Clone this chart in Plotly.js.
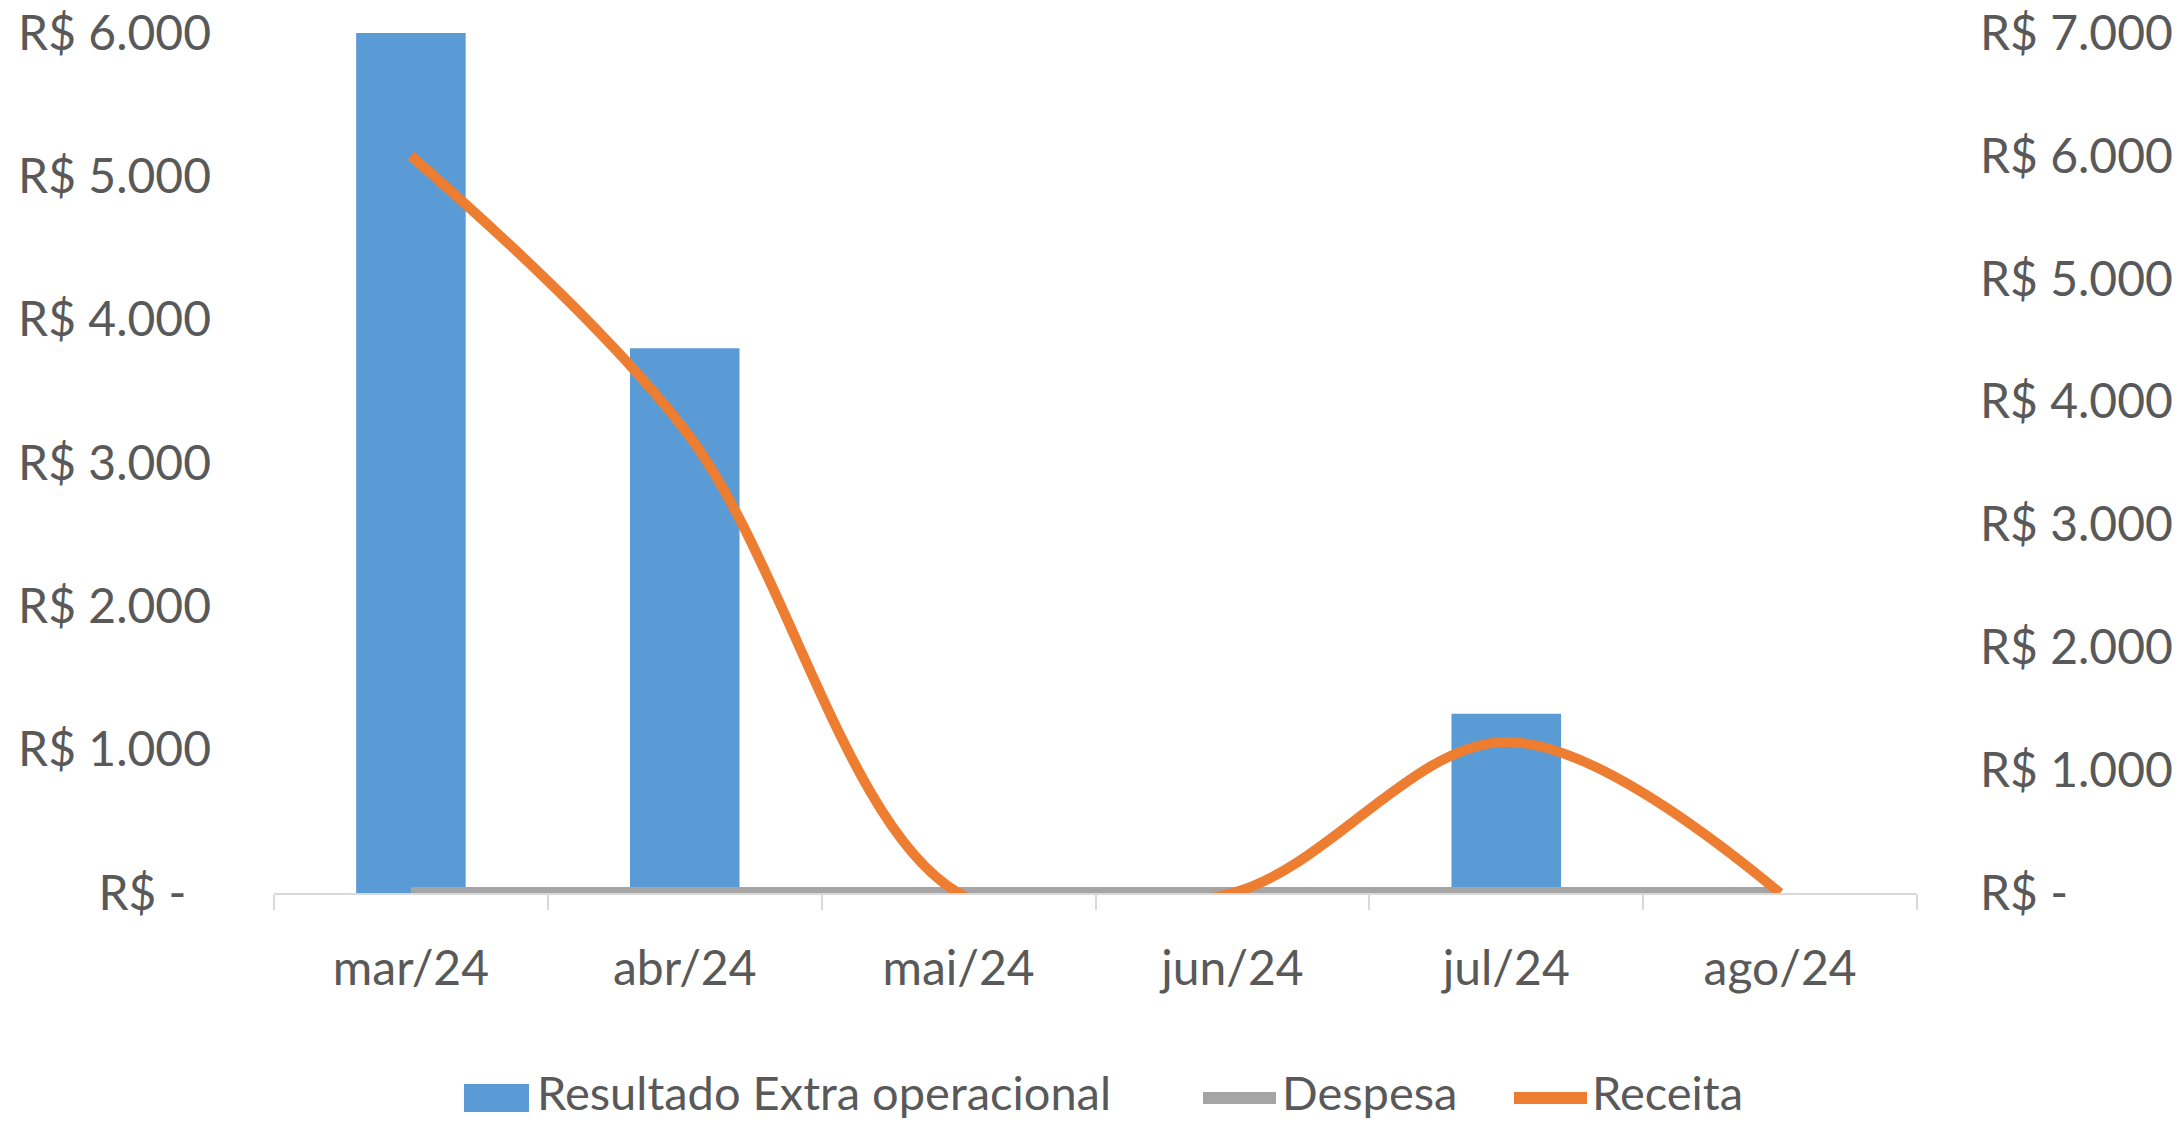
<!DOCTYPE html>
<html>
<head>
<meta charset="utf-8">
<script src="https://cdn.plot.ly/plotly-3.0.1.min.js"></script>
<style>
html,body{margin:0;padding:0;background:#fff;}
#chart{width:2178px;height:1125px;}
</style>
</head>
<body>
<div id="chart"></div>
<script>
const months = ["mar/24","abr/24","mai/24","jun/24","jul/24","ago/24"];
const resultado = [6000, 3800, 0, 0, 1250, 0];
const despesa = [0, 0, 0, 0, 0, 0];
const receita = [6000, 3770, 0, 0, 1230, 0];
const seriesNames = ["Resultado Extra operacional", "Despesa", "Receita"];
const seriesColors = ["#5B9BD5", "#A5A5A5", "#ED7D31"];
const leftTicks = [0,1000,2000,3000,4000,5000,6000];
const leftLabels = ["R$ -\u00a0\u00a0","R$ 1.000","R$ 2.000","R$ 3.000","R$ 4.000","R$ 5.000","R$ 6.000"];
const rightTicks = [0,1000,2000,3000,4000,5000,6000,7000];
const rightLabels = ["R$ -","R$ 1.000","R$ 2.000","R$ 3.000","R$ 4.000","R$ 5.000","R$ 6.000","R$ 7.000"];

const W = 2178, H = 1125;
const M = {l:274, r:261, t:33, b:232};
const pw = W - M.l - M.r, ph = H - M.t - M.b;
const px = v => (v - M.l) / pw;
const py = v => (H - M.b - v) / ph;

const font = {family:"Lato, 'Open Sans', sans-serif", size:48, color:"#595959"};
const legFont = {family:"Lato, 'Open Sans', sans-serif", size:47, color:"#595959"};

const traces = [
  {type:"bar", name:seriesNames[0], x:months, y:resultado,
   marker:{color:seriesColors[0]}, yaxis:"y"},
  {type:"scatter", mode:"lines", name:seriesNames[1], x:months, y:despesa,
   line:{color:seriesColors[1], width:12}, yaxis:"y2"},
  {type:"scatter", mode:"lines", name:seriesNames[2], x:months, y:receita,
   line:{color:seriesColors[2], width:10, shape:"spline", smoothing:1}, yaxis:"y2"}
];

// manual legend (bottom)
const legY = 1098;
const shapes = [
  {type:"rect", xref:"paper", yref:"paper", x0:px(464), x1:px(529), y0:py(1112), y1:py(1084),
   fillcolor:seriesColors[0], line:{width:0}},
  {type:"line", xref:"paper", yref:"paper", x0:px(1203), x1:px(1276), y0:py(legY), y1:py(legY),
   line:{color:seriesColors[1], width:12}},
  {type:"line", xref:"paper", yref:"paper", x0:px(1514), x1:px(1587), y0:py(legY), y1:py(legY),
   line:{color:seriesColors[2], width:12}}
];
const annotations = [
  {text:seriesNames[0], x:px(536), xanchor:"left"},
  {text:seriesNames[1], x:px(1281), xanchor:"left"},
  {text:seriesNames[2], x:px(1591), xanchor:"left"}
].map(a => Object.assign({xref:"paper", yref:"paper", y:py(1092), yanchor:"middle",
  showarrow:false, font:legFont, borderpad:0}, a));

const layout = {
  width:W, height:H,
  paper_bgcolor:"#fff", plot_bgcolor:"#fff",
  font:font,
  margin:M,
  bargap:0.6,
  showlegend:false,
  shapes:shapes,
  annotations:annotations,
  xaxis:{type:"category", showgrid:false, showline:true, linecolor:"#d9d9d9", linewidth:2,
         ticks:"outside", tickson:"boundaries", ticklen:15, tickcolor:"#d9d9d9", tickwidth:2,
         ticklabelstandoff:32, tickfont:font, zeroline:false},
  yaxis:{range:[0,6000], tickvals:leftTicks, ticktext:leftLabels, showgrid:false,
         zeroline:false, showline:false, ticks:"", ticklabelstandoff:62, tickfont:font},
  yaxis2:{range:[0,7000], overlaying:"y", side:"right", tickvals:rightTicks, ticktext:rightLabels,
          showgrid:false, zeroline:false, showline:false, ticks:"", ticklabelstandoff:62, tickfont:font}
};

Plotly.newPlot("chart", traces, layout, {displayModeBar:false, staticPlot:true});
</script>
</body>
</html>
